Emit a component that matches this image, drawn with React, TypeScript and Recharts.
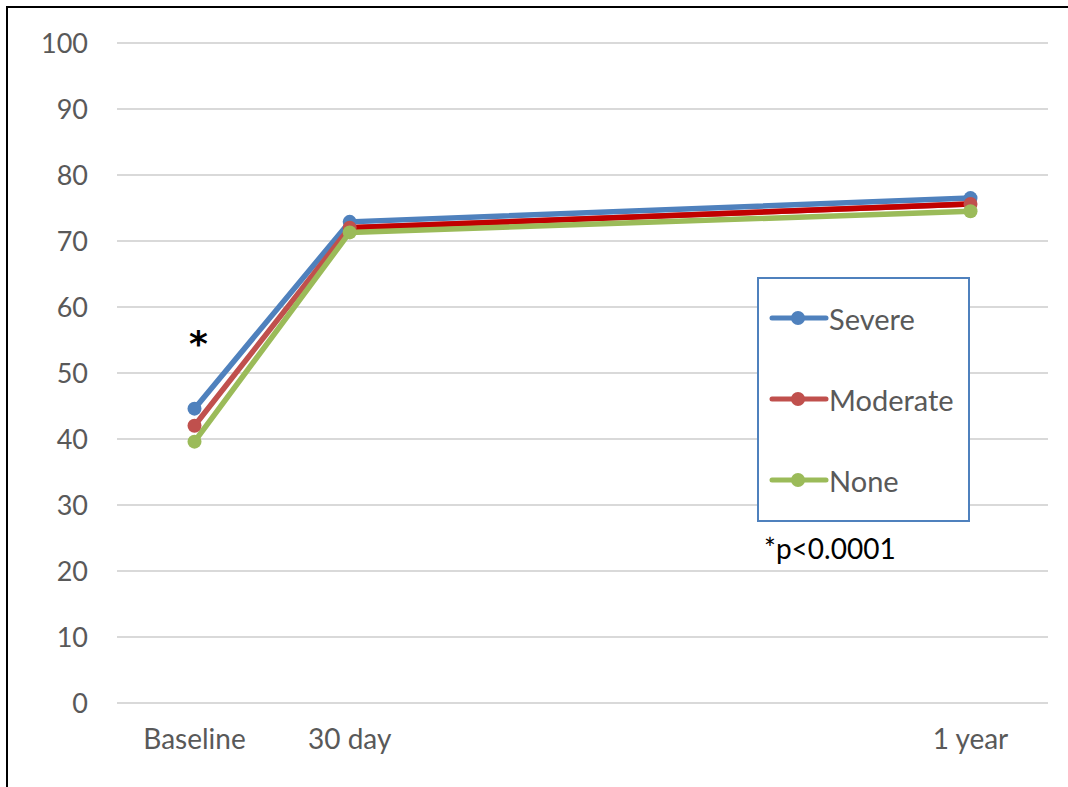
import { LineChart, Line, XAxis, YAxis, CartesianGrid } from 'recharts'

// timepoints spaced like the original chart (blank slots between 30 day and 1 year)
const timepoints = ['Baseline', '30 day', '', '', '', '1 year']
const severe = [44.6, 72.9, null, null, null, 76.5]
const moderate = [42.0, 72.0, null, null, null, 75.6]
const none = [39.6, 71.3, null, null, null, 74.5]
// late moderate segment is drawn in a darker red in the source
const moderateLate = [null, 72.0, null, null, null, 75.6]
const yTicks = [0, 10, 20, 30, 40, 50, 60, 70, 80, 90, 100]

const seriesNames = ['Severe', 'Moderate', 'None']
const seriesColors = ['#4F81BD', '#C0504D', '#9BBB59']

const data = timepoints.map((t, i) => ({
  t,
  severe: severe[i],
  moderate: moderate[i],
  none: none[i],
  moderateLate: moderateLate[i],
}))

const font = 'Lato, "Open Sans", sans-serif'

function LegendBox() {
  return (
    <div
      style={{
        position: 'absolute',
        left: 757,
        top: 277,
        width: 213,
        height: 245,
        boxSizing: 'border-box',
        border: '2px solid #4F81BD',
        background: '#fff',
        fontFamily: font,
        fontSize: 29,
        color: '#595959',
      }}
    >
      {seriesNames.map((name, i) => (
        <div
          key={name}
          style={{
            position: 'absolute',
            left: 10,
            top: 19 + i * 81,
            display: 'flex',
            alignItems: 'center',
            height: 40,
          }}
        >
          <svg width={60} height={20} style={{ marginRight: 0 }}>
            <line x1={3} y1={10} x2={57} y2={10} stroke={seriesColors[i]} strokeWidth={5} strokeLinecap="round" />
            <circle cx={29} cy={10} r={7} fill={seriesColors[i]} />
          </svg>
          <span>{name}</span>
        </div>
      ))}
    </div>
  )
}

export default function App() {
  return (
    <div
      style={{
        position: 'fixed',
        left: 0,
        top: 0,
        width: 1068,
        height: 787,
        overflow: 'hidden',
        background: '#fff',
      }}
    >
      <div
        style={{
          position: 'absolute',
          left: 6,
          top: 6,
          width: 1100,
          height: 820,
          border: '2px solid #000',
        }}
      />
      <LineChart
        width={1068}
        height={787}
        data={data}
        margin={{ top: 43, right: 20, bottom: 0, left: 0 }}
        style={{ position: 'absolute', left: 0, top: 0 }}
      >
        <CartesianGrid vertical={false} stroke="#D9D9D9" strokeWidth={2} />
        <XAxis
          dataKey="t"
          height={84}
          axisLine={false}
          tickLine={false}
          tickSize={0}
          tickMargin={26}
          interval={0}
          padding={{ left: 77.5, right: 77.5 }}
          tick={{ fill: '#595959', fontSize: 28, fontFamily: font }}
        />
        <YAxis
          width={117}
          domain={[0, 100]}
          ticks={yTicks}
          axisLine={false}
          tickLine={false}
          tickSize={0}
          tickMargin={29}
          tick={{ fill: '#595959', fontSize: 27, fontFamily: font }}
        />
        <Line
          dataKey="severe"
          stroke={seriesColors[0]}
          strokeWidth={5.5}
          dot={{ r: 7, fill: seriesColors[0], stroke: 'none' }}
          connectNulls
          isAnimationActive={false}
        />
        <Line
          dataKey="moderate"
          stroke={seriesColors[1]}
          strokeWidth={5.5}
          dot={{ r: 7, fill: seriesColors[1], stroke: 'none' }}
          connectNulls
          isAnimationActive={false}
        />
        <Line
          dataKey="moderateLate"
          stroke="#C00000"
          strokeWidth={5.5}
          dot={false}
          connectNulls
          isAnimationActive={false}
        />
        <Line
          dataKey="none"
          stroke={seriesColors[2]}
          strokeWidth={5.5}
          dot={{ r: 7, fill: seriesColors[2], stroke: 'none' }}
          connectNulls
          isAnimationActive={false}
        />
      </LineChart>
      <LegendBox />
      <div
        style={{
          position: 'absolute',
          left: 189,
          top: 326,
          fontFamily: '"DejaVu Sans", sans-serif',
          fontSize: 36,
          fontWeight: 700,
          lineHeight: '36px',
          color: '#000',
        }}
      >
        *
      </div>
      <div
        style={{
          position: 'absolute',
          left: 764,
          top: 531,
          fontFamily: font,
          fontSize: 28,
          color: '#000',
        }}
      >
        *p&lt;0.0001
      </div>
    </div>
  )
}
